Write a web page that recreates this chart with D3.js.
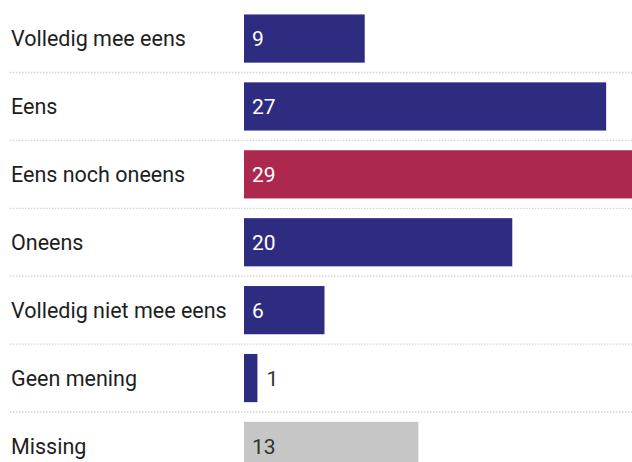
<!DOCTYPE html>
<html><head><meta charset="utf-8">
<script src="https://cdn.jsdelivr.net/npm/d3@7"></script>
<style>html,body{margin:0;padding:0;background:#fff;overflow:hidden}</style>
</head><body>
<svg id="c" width="632" height="462"></svg>
<script>
const categories = ["Volledig mee eens","Eens","Eens noch oneens","Oneens","Volledig niet mee eens","Geen mening","Missing"];
const values = [9,27,29,20,6,1,13];
const kinds = ["agree","agree","neutral","agree","agree","agree","missing"];
const colors = {agree:"#2e2c80", neutral:"#ad284f", missing:"#c6c6c6"};

const svg = d3.select("#c");
const W = 632, H = 462;
const x = d3.scaleLinear().domain([0, 29]).range([244, 633]);
const y = d3.scaleBand().domain(categories).range([4.6, 479.9]).paddingInner(0.29).paddingOuter(0.145);
const step = y.step(), bw = y.bandwidth();
const font = "Roboto, 'Noto Sans', sans-serif";

// separators
svg.selectAll("line.sep").data(categories.slice(0, -1)).join("line")
  .attr("x1", 10).attr("x2", W)
  .attr("y1", d => y(d) + bw + (step - bw) / 2)
  .attr("y2", d => y(d) + bw + (step - bw) / 2)
  .attr("stroke", "#d3d3d3").attr("stroke-width", 1.3).attr("stroke-dasharray", "1.5,1.5");

// bars
svg.selectAll("rect.bar").data(categories).join("rect")
  .attr("x", x(0)).attr("y", d => y(d))
  .attr("width", (d, i) => x(values[i]) - x(0))
  .attr("height", bw)
  .attr("fill", (d, i) => colors[kinds[i]]);

// category labels
svg.selectAll("text.cat").data(categories).join("text")
  .attr("x", 11).attr("y", d => y(d) + bw / 2)
  .attr("dy", "0.36em")
  .attr("font-family", font).attr("font-size", 21.5)
  .attr("fill", "#1e1e1e").text(d => d);

// value labels
svg.selectAll("text.val").data(categories).join("text")
  .attr("x", (d, i) => (x(values[i]) - x(0) < 30) ? x(values[i]) + 9 : x(0) + 8)
  .attr("y", d => y(d) + bw / 2)
  .attr("dy", "0.36em")
  .attr("font-family", font).attr("font-size", 21)
  .attr("fill", (d, i) => (x(values[i]) - x(0) < 30 || kinds[i] === "missing") ? "#333" : "#fff")
  .text((d, i) => values[i]);
</script>
</body></html>
